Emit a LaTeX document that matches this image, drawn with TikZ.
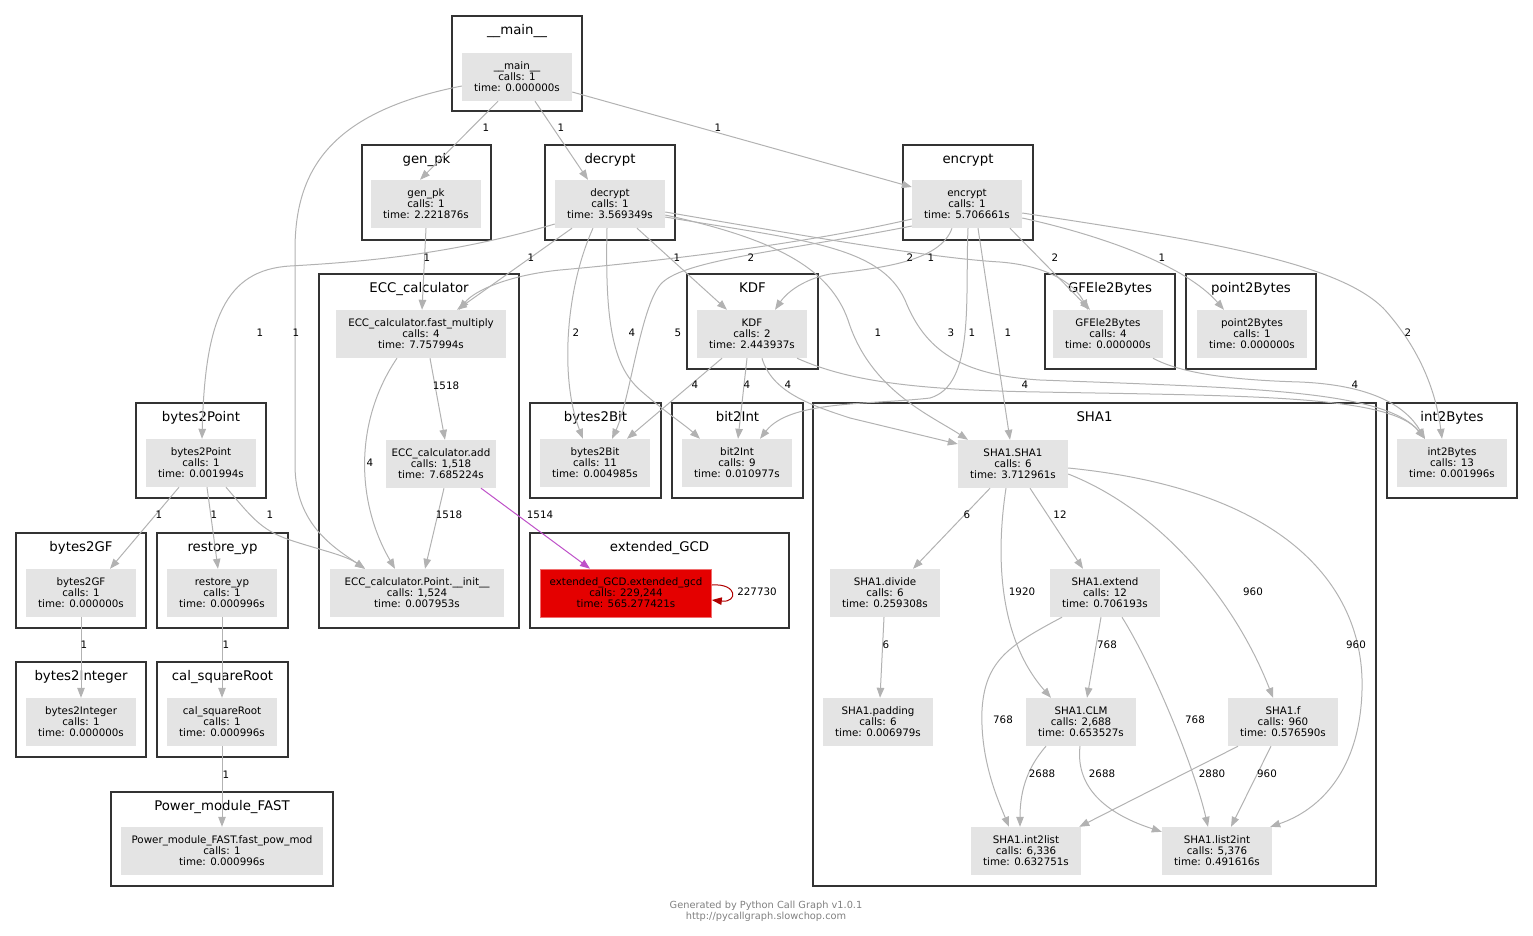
\documentclass[tikz,border=0pt]{standalone}
\usepackage{fontspec}
\setmainfont{DejaVu Sans}
\usetikzlibrary{arrows.meta}
\definecolor{eg}{RGB}{178,178,178}
\definecolor{ng}{RGB}{228,228,228}
\definecolor{cb}{RGB}{51,51,51}
\definecolor{rd}{RGB}{228,0,0}
\definecolor{rdb}{RGB}{240,110,110}
\definecolor{pu}{RGB}{190,80,200}
\definecolor{dr}{RGB}{176,0,0}
\definecolor{ft}{RGB}{128,128,128}
\tikzset{
 fnode/.style={rectangle, fill=ng, inner sep=0pt, minimum height=48pt, minimum width=110pt, align=center, font=\fontsize{10.3}{11}\selectfont},
 clbox/.style={draw=cb, line width=2.6pt},
 cllab/.style={font=\fontsize{13.3}{15}\selectfont, inner sep=0pt, anchor=base},
 cedge/.style={draw=eg, line width=1pt, -{Triangle[length=10pt,width=7.5pt]}},
 elab/.style={font=\fontsize{10.3}{11}\selectfont, inner sep=0pt},
 foot/.style={font=\fontsize{9.8}{11}\selectfont, text=ft, inner sep=0pt},
}
\newcommand{\mkclus}[6]{\draw[clbox] (#2,#3) rectangle (#4,#5); \node[cllab] (#1) at ({(#2+#4)/2},{#3+18}) {#6};}
\begin{document}
\begin{tikzpicture}[x=1pt,y=-1pt]
\useasboundingbox (0,0) rectangle (1533,935);
% clusters
\mkclus{cmain}{452}{16}{582}{111}{\_\_main\_\_}
\mkclus{cgenpk}{362}{145}{491}{240}{gen\_pk}
\mkclus{cdecrypt}{545}{145}{675}{240}{decrypt}
\mkclus{cencrypt}{903}{145}{1033}{240}{encrypt}
\mkclus{cecc}{319}{274}{519}{628}{ECC\_calculator}
\mkclus{ckdf}{687}{274}{818}{369}{KDF}
\mkclus{cgfe}{1045}{274}{1175}{369}{GFEle2Bytes}
\mkclus{cptb}{1186}{274}{1316}{369}{point2Bytes}
\mkclus{cbtp}{136}{403}{266}{498}{bytes2Point}
\mkclus{cbtbit}{530}{403}{661}{498}{bytes2Bit}
\mkclus{cbitint}{672}{403}{803}{498}{bit2Int}
\mkclus{csha}{813}{403}{1376}{886}{SHA1}
\mkclus{citb}{1387}{403}{1517}{498}{int2Bytes}
\mkclus{cbtgf}{16}{533}{146}{628}{bytes2GF}
\mkclus{cryp}{157}{533}{288}{628}{restore\_yp}
\mkclus{cegcd}{530}{533}{789}{628}{extended\_GCD}
\mkclus{cbti}{16}{662}{146}{757}{bytes2Integer}
\mkclus{ccsr}{157}{662}{288}{757}{cal\_squareRoot}
\mkclus{cpmf}{111}{792}{333}{886}{Power\_module\_FAST}
% nodes
\node[fnode] (main) at (517,77) {\_\_main\_\_\\calls: 1\\time: 0.000000s};
\node[fnode] (genpk) at (426,204) {gen\_pk\\calls: 1\\time: 2.221876s};
\node[fnode] (decrypt) at (610,204) {decrypt\\calls: 1\\time: 3.569349s};
\node[fnode] (encrypt) at (967,204) {encrypt\\calls: 1\\time: 5.706661s};
\node[fnode, minimum width=170pt] (fastmul) at (421,334) {ECC\_calculator.fast\_multiply\\calls: 4\\time: 7.757994s};
\node[fnode] (add) at (441,464) {ECC\_calculator.add\\calls: 1,518\\time: 7.685224s};
\node[fnode, minimum width=174pt] (pinit) at (417,593) {ECC\_calculator.Point.\_\_init\_\_\\calls: 1,524\\time: 0.007953s};
\node[fnode] (kdf) at (752,334) {KDF\\calls: 2\\time: 2.443937s};
\node[fnode] (gfe) at (1108,334) {GFEle2Bytes\\calls: 4\\time: 0.000000s};
\node[fnode] (ptb) at (1252,334) {point2Bytes\\calls: 1\\time: 0.000000s};
\node[fnode] (btp) at (201,463) {bytes2Point\\calls: 1\\time: 0.001994s};
\node[fnode] (btbit) at (595,463) {bytes2Bit\\calls: 11\\time: 0.004985s};
\node[fnode] (bitint) at (737,463) {bit2Int\\calls: 9\\time: 0.010977s};
\node[fnode] (sha) at (1013,464) {SHA1.SHA1\\calls: 6\\time: 3.712961s};
\node[fnode] (divide) at (885,593) {SHA1.divide\\calls: 6\\time: 0.259308s};
\node[fnode] (extend) at (1105,593) {SHA1.extend\\calls: 12\\time: 0.706193s};
\node[fnode] (padding) at (878,722) {SHA1.padding\\calls: 6\\time: 0.006979s};
\node[fnode] (clm) at (1081,722) {SHA1.CLM\\calls: 2,688\\time: 0.653527s};
\node[fnode] (shaf) at (1283,722) {SHA1.f\\calls: 960\\time: 0.576590s};
\node[fnode] (intlist) at (1026,851) {SHA1.int2list\\calls: 6,336\\time: 0.632751s};
\node[fnode] (listint) at (1217,851) {SHA1.list2int\\calls: 5,376\\time: 0.491616s};
\node[fnode] (itb) at (1452,463) {int2Bytes\\calls: 13\\time: 0.001996s};
\node[fnode] (btgf) at (81,593) {bytes2GF\\calls: 1\\time: 0.000000s};
\node[fnode] (ryp) at (222,593) {restore\_yp\\calls: 1\\time: 0.000996s};
\node[fnode, fill=rd, draw=rdb, line width=0.6pt, minimum width=171pt] (egcd) at (626,593) {extended\_GCD.extended\_gcd\\calls: 229,244\\time: 565.277421s};
\node[fnode] (bti) at (81,722) {bytes2Integer\\calls: 1\\time: 0.000000s};
\node[fnode] (csr) at (222,722) {cal\_squareRoot\\calls: 1\\time: 0.000996s};
\node[fnode, minimum width=202pt] (fpm) at (222,851) {Power\_module\_FAST.fast\_pow\_mod\\calls: 1\\time: 0.000996s};
% edges
\draw[cedge] ([xshift=-19pt]main.south) -- ([xshift=-6pt]genpk.north);
\draw[cedge] ([xshift=18pt]main.south) -- ([xshift=-22pt]decrypt.north);
\draw[cedge] ([yshift=-15pt]main.east) -- ([yshift=17pt]encrypt.west);
\draw[cedge] ([yshift=-9pt]main.west) .. controls (330,112) and (295,170) .. (295,250) -- (295,465) .. controls (295,525) and (335,548) .. ([xshift=-52pt]pinit.north);
\draw[cedge] (genpk.south) -- ([xshift=1pt]fastmul.north);
\draw[cedge] ([xshift=-38pt]decrypt.south) -- ([xshift=36pt]fastmul.north);
\draw[cedge] ([yshift=-15pt]encrypt.west) .. controls (800,245) and (650,262) .. (560,270) .. controls (510,275) and (475,290) .. ([xshift=38pt]fastmul.north);
\draw[cedge] ([yshift=-20pt]decrypt.west) .. controls (450,255) and (360,262) .. (290,266) .. controls (225,270) and (205,320) .. ([xshift=1pt]btp.north);
\draw[cedge] ([xshift=27pt]decrypt.south) -- ([xshift=-25pt]kdf.north);
\draw[cedge] ([xshift=-15pt]encrypt.south) .. controls (940,262) and (880,268) .. (830,274) .. controls (800,280) and (785,295) .. ([xshift=23pt]kdf.north);
\draw[cedge] ([yshift=-8pt]decrypt.east) .. controls (800,235) and (930,258) .. (1000,262) .. controls (1050,266) and (1075,285) .. ([xshift=-20pt]gfe.north);
\draw[cedge] ([xshift=43pt]encrypt.south) -- ([xshift=-18pt]gfe.north);
\draw[cedge] ([yshift=-14pt]encrypt.east) .. controls (1100,235) and (1185,265) .. ([xshift=-28pt]ptb.north);
\draw[cedge] ([yshift=-9pt]encrypt.east) .. controls (1200,240) and (1340,262) .. (1385,310) .. controls (1425,355) and (1437,400) .. ([xshift=-10pt]itb.north);
\draw[cedge] ([xshift=-17pt]decrypt.south) .. controls (565,290) and (560,380) .. ([xshift=-12pt]btbit.north);
\draw[cedge] ([xshift=-3pt]decrypt.south) .. controls (605,320) and (612,365) .. (640,390) .. controls (665,412) and (685,425) .. ([xshift=-37pt]bitint.north);
\draw[cedge] ([yshift=-22pt]encrypt.west) .. controls (780,252) and (680,260) .. (660,285) .. controls (640,310) and (630,400) .. ([xshift=17pt]btbit.north);
\draw[cedge] ([yshift=-11pt]decrypt.east) .. controls (780,240) and (830,270) .. (848,320) .. controls (870,390) and (930,415) .. ([xshift=-45pt]sha.north);
\draw[cedge] ([yshift=-13pt]decrypt.east) .. controls (800,240) and (880,245) .. (905,300) .. controls (925,350) and (960,375) .. (1040,380) .. controls (1250,388) and (1385,390) .. ([xshift=-27pt]itb.north);
\draw[cedge] ([xshift=1pt]encrypt.south) .. controls (965,300) and (975,385) .. (930,398) .. controls (870,405) and (790,400) .. ([xshift=23pt]bitint.north);
\draw[cedge] ([xshift=11pt]encrypt.south) -- ([xshift=-3pt]sha.north);
\draw[cedge] ([xshift=-30pt]kdf.south) -- ([xshift=32pt]btbit.north);
\draw[cedge] ([xshift=-5pt]kdf.south) -- ([xshift=1pt]bitint.north);
\draw[cedge] ([xshift=10pt]kdf.south) .. controls (772,392) and (810,405) .. (850,418) -- ([yshift=20pt]sha.west);
\draw[cedge] ([xshift=45pt]kdf.south) .. controls (850,382) and (920,390) .. (1040,392) .. controls (1250,396) and (1390,395) .. ([xshift=-27pt]itb.north);
\draw[cedge] ([xshift=45pt]gfe.south) .. controls (1180,373) and (1230,380) .. (1300,382) .. controls (1370,385) and (1405,405) .. ([xshift=-27pt]itb.north);
\draw[cedge] ([xshift=9pt]fastmul.south) -- ([xshift=4pt]add.north);
\draw[cedge] ([xshift=-24pt]fastmul.south) .. controls (355,420) and (355,500) .. ([xshift=-22pt]pinit.north);
\draw[cedge] ([xshift=3pt]add.south) -- ([xshift=8pt]pinit.north);
\draw[cedge, draw=pu] ([xshift=40pt]add.south) -- ([xshift=-36pt]egcd.north);
\draw[cedge, draw=dr] ([yshift=8pt]egcd.east) .. controls (738,583) and (738,603) .. ([yshift=-7pt]egcd.east);
\draw[cedge] ([xshift=-22pt]btp.south) -- ([xshift=29pt]btgf.north);
\draw[cedge] ([xshift=6pt]btp.south) -- ([xshift=-4pt]ryp.north);
\draw[cedge] ([xshift=25pt]btp.south) .. controls (250,515) and (260,530) .. (290,540) .. controls (320,550) and (345,555) .. ([xshift=-52pt]pinit.north);
\draw[cedge] (btgf.south) -- (bti.north);
\draw[cedge] (ryp.south) -- (csr.north);
\draw[cedge] (csr.south) -- (fpm.north);
\draw[cedge] ([xshift=-23pt]sha.south) -- ([xshift=28pt]divide.north);
\draw[cedge] ([xshift=17pt]sha.south) -- ([xshift=-22pt]extend.north);
\draw[cedge] ([xshift=-7pt]sha.south) .. controls (995,560) and (1000,640) .. ([xshift=-30pt]clm.north);
\draw[cedge] ([yshift=-10pt]sha.east) .. controls (1160,510) and (1235,600) .. ([xshift=-10pt]shaf.north);
\draw[cedge] ([yshift=-4pt]sha.east) .. controls (1290,490) and (1365,590) .. (1362,690) .. controls (1360,770) and (1320,810) .. ([xshift=-2pt]listint.north east);
\draw[cedge] ([xshift=-1pt]divide.south) -- ([xshift=2pt]padding.north);
\draw[cedge] ([xshift=-4pt]extend.south) -- ([xshift=6pt]clm.north);
\draw[cedge] ([xshift=-43pt]extend.south) .. controls (1010,645) and (985,660) .. (982,710) .. controls (980,760) and (998,800) .. ([xshift=-17pt]intlist.north);
\draw[cedge] ([xshift=17pt]extend.south) .. controls (1155,670) and (1195,770) .. ([xshift=-9pt]listint.north);
\draw[cedge] ([xshift=-35pt]clm.south) .. controls (1025,770) and (1020,795) .. ([xshift=-6pt]intlist.north);
\draw[cedge] ([xshift=-1pt]clm.south) .. controls (1075,790) and (1110,815) .. ([yshift=-5pt]listint.north west);
\draw[cedge] ([xshift=-45pt]shaf.south) -- ([xshift=-2pt]intlist.north east);
\draw[cedge] ([xshift=-12pt]shaf.south) -- ([xshift=14pt]listint.north);
% edge labels
\node[elab] (l1) at (486,128) {1};
\node[elab] (l2) at (561,128) {1};
\node[elab] (l3) at (718,128) {1};
\node[elab] (l4) at (296,333) {1};
\node[elab] (l5) at (427,258) {1};
\node[elab] (l6) at (531,258) {1};
\node[elab] (l7) at (751,258) {2};
\node[elab] (l8) at (260,333) {1};
\node[elab] (l9) at (677,258) {1};
\node[elab] (l10) at (931,258) {1};
\node[elab] (l11) at (910,258) {2};
\node[elab] (l12) at (1055,258) {2};
\node[elab] (l13) at (1162,258) {1};
\node[elab] (l14) at (576,333) {2};
\node[elab] (l15) at (632,333) {4};
\node[elab] (l16) at (678,333) {5};
\node[elab] (l17) at (878,333) {1};
\node[elab] (l18) at (951,333) {3};
\node[elab] (l19) at (972,333) {1};
\node[elab] (l20) at (1008,333) {1};
\node[elab] (l21) at (1408,333) {2};
\node[elab] (l22) at (695,385) {4};
\node[elab] (l23) at (747,385) {4};
\node[elab] (l24) at (788,385) {4};
\node[elab] (l25) at (1025,385) {4};
\node[elab] (l26) at (1355,385) {4};
\node[elab] (l27) at (446,386) {1518};
\node[elab] (l28) at (370,463) {4};
\node[elab] (l29) at (449,515) {1518};
\node[elab] (l30) at (540,515) {1514};
\node[elab] (l31) at (757,592) {227730};
\node[elab] (l32) at (159,515) {1};
\node[elab] (l33) at (214,515) {1};
\node[elab] (l34) at (270,515) {1};
\node[elab] (l35) at (84,645) {1};
\node[elab] (l36) at (226,645) {1};
\node[elab] (l37) at (226,775) {1};
\node[elab] (l38) at (967,515) {6};
\node[elab] (l39) at (1060,515) {12};
\node[elab] (l40) at (1022,592) {1920};
\node[elab] (l41) at (1253,592) {960};
\node[elab] (l42) at (1356,645) {960};
\node[elab] (l43) at (886,645) {6};
\node[elab] (l44) at (1107,645) {768};
\node[elab] (l45) at (1003,720) {768};
\node[elab] (l46) at (1195,720) {768};
\node[elab] (l47) at (1042,774) {2688};
\node[elab] (l48) at (1102,774) {2688};
\node[elab] (l49) at (1212,774) {2880};
\node[elab] (l50) at (1267,774) {960};
% footer
\node[foot] (foot1) at (766,906) {Generated by Python Call Graph v1.0.1};
\node[foot] (foot2) at (766,917) {http://pycallgraph.slowchop.com};
\end{tikzpicture}
\end{document}
